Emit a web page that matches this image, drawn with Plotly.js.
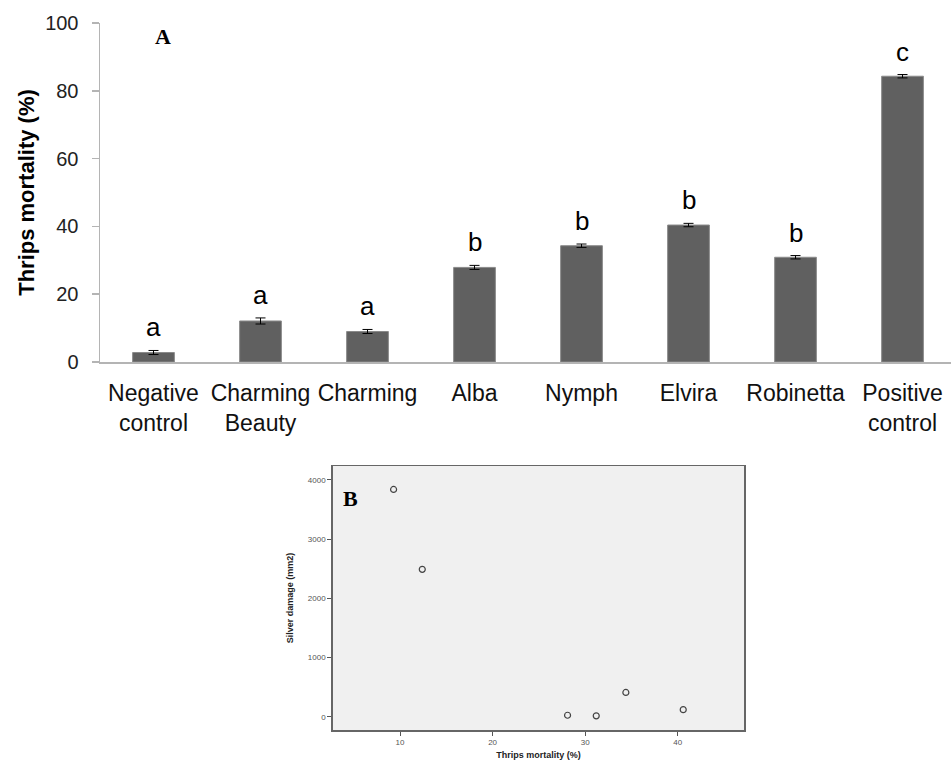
<!DOCTYPE html>
<html>
<head>
<meta charset="utf-8">
<script src="https://cdn.plot.ly/plotly-3.0.1.min.js"></script>
<style>html,body{margin:0;padding:0;background:#fff;}#chart{width:951px;height:760px;}</style>
</head>
<body>
<div id="chart"></div>
<script>
// Panel A data
const categories = ["Negative<br>control", "Charming<br>Beauty", "Charming", "Alba", "Nymph", "Elvira", "Robinetta", "Positive<br>control"];
const mortality = [2.8, 12.1, 9.0, 27.9, 34.3, 40.4, 30.9, 84.3];
const mortalityErr = [0.6, 0.9, 0.6, 0.6, 0.5, 0.5, 0.5, 0.5];
const groupLetters = ["a", "a", "a", "b", "b", "b", "b", "c"];
const yTicksA = [0, 20, 40, 60, 80, 100];

// Panel B data
const thripsMortality = [9.3, 12.4, 28.1, 31.2, 34.4, 40.6];
const silverDamage = [3840, 2490, 25, 15, 410, 120];
const xTicksB = [10, 20, 30, 40];
const yTicksB = [0, 1000, 2000, 3000, 4000];

const W = 951, H = 760;
const px = v => v / W;
const py = v => 1 - v / H;

const idx = categories.map((c, i) => i);

const barTrace = {
  type: "bar",
  x: idx,
  y: mortality,
  xaxis: "x", yaxis: "y",
  marker: {color: "#606060", line: {color: "#8a8a8a", width: 1}},
  error_y: {type: "data", array: mortalityErr, visible: true, color: "#000", thickness: 1, width: 5},
  hoverinfo: "skip"
};

const scatterTrace = {
  type: "scatter",
  mode: "markers",
  x: thripsMortality,
  y: silverDamage,
  xaxis: "x2", yaxis: "y2",
  marker: {symbol: "circle-open", size: 6, color: "#444", line: {width: 1.2, color: "#444"}},
  hoverinfo: "skip"
};

const letterAnnotations = idx.map(i => ({
  x: i, y: mortality[i] + mortalityErr[i], xref: "x", yref: "y",
  text: groupLetters[i], showarrow: false, yanchor: "bottom", yshift: 6,
  font: {family: "Liberation Sans, Arial, sans-serif", size: 26, color: "#000"}
}));

const layout = {
  width: W, height: H,
  margin: {l: 0, r: 0, t: 0, b: 0},
  paper_bgcolor: "#fff",
  plot_bgcolor: "rgba(0,0,0,0)",
  showlegend: false,
  bargap: 0.61,
  xaxis: {
    domain: [px(100), 1],
    range: [-0.5, 7.453],
    tickmode: "array", tickvals: idx, ticktext: categories,
    ticks: "", showgrid: false, zeroline: false,
    showline: true, linecolor: "#b4b4b4", linewidth: 1.5,
    tickfont: {family: "Liberation Sans, Arial, sans-serif", size: 23, color: "#111"},
    ticklabelstandoff: 10,
    anchor: "y"
  },
  yaxis: {
    domain: [py(362), py(23)],
    range: [0, 100],
    tickmode: "array", tickvals: yTicksA,
    ticks: "outside", ticklen: 7, tickcolor: "#b4b4b4", tickwidth: 1.5,
    showgrid: false, zeroline: false,
    showline: true, linecolor: "#b4b4b4", linewidth: 1.5,
    tickfont: {family: "Liberation Sans, Arial, sans-serif", size: 20, color: "#222"},
    ticklabelstandoff: 9,
    title: {text: "<b>Thrips mortality (%)</b>", standoff: 4,
      font: {family: "Liberation Sans, Arial, sans-serif", size: 22, color: "#000"}},
    anchor: "x"
  },
  xaxis2: {
    domain: [px(332.7), px(744.3)],
    range: [2.72, 47.2],
    tickmode: "array", tickvals: xTicksB,
    ticks: "outside", ticklen: 4, tickcolor: "#555", tickwidth: 1,
    showgrid: false, zeroline: false,
    showline: true, mirror: true, linecolor: "#666", linewidth: 1.5,
    tickfont: {family: "Liberation Sans, Arial, sans-serif", size: 8, color: "#555"},
    title: {text: "<b>Thrips mortality (%)</b>", standoff: 6,
      font: {family: "Liberation Sans, Arial, sans-serif", size: 9, color: "#222"}},
    anchor: "y2"
  },
  yaxis2: {
    domain: [py(730), py(466)],
    range: [-224, 4236],
    tickmode: "array", tickvals: yTicksB,
    ticks: "outside", ticklen: 4, tickcolor: "#555", tickwidth: 1,
    showgrid: false, zeroline: false,
    showline: true, mirror: true, linecolor: "#666", linewidth: 1.5,
    tickfont: {family: "Liberation Sans, Arial, sans-serif", size: 8, color: "#555"},
    title: {text: "<b>Silver damage (mm2)</b>", standoff: 12,
      font: {family: "Liberation Sans, Arial, sans-serif", size: 9, color: "#222"}},
    anchor: "x2"
  },
  shapes: [{
    type: "rect", xref: "x2 domain", yref: "y2 domain", x0: 0, x1: 1, y0: 0, y1: 1,
    fillcolor: "#f0f0f0", line: {width: 0}, layer: "below"
  }],
  annotations: letterAnnotations.concat([
    {x: px(163), y: py(36), xref: "paper", yref: "paper", text: "<b>A</b>", showarrow: false,
      xanchor: "center", yanchor: "middle",
      font: {family: "Liberation Serif, Times New Roman, serif", size: 22, color: "#000"}},
    {x: px(350), y: py(498), xref: "paper", yref: "paper", text: "<b>B</b>", showarrow: false,
      xanchor: "center", yanchor: "middle",
      font: {family: "Liberation Serif, Times New Roman, serif", size: 22, color: "#000"}}
  ])
};

Plotly.newPlot("chart", [barTrace, scatterTrace], layout, {staticPlot: true, displayModeBar: false});
</script>
</body>
</html>
